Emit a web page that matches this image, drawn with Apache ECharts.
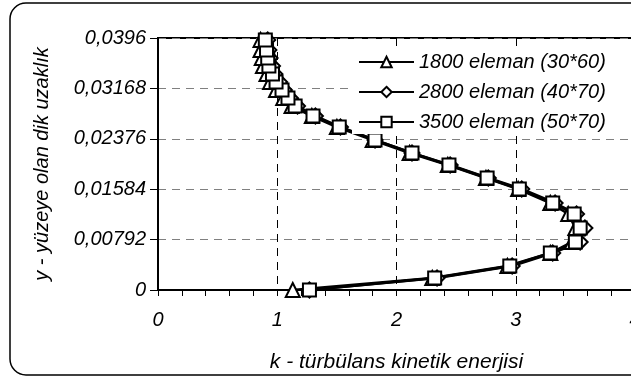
<!DOCTYPE html>
<html>
<head>
<meta charset="utf-8">
<script src="https://cdn.jsdelivr.net/npm/echarts@6/dist/echarts.min.js"></script>
<style>
html,body{margin:0;padding:0;background:#fff;}
#chart{width:631px;height:381px;}
</style>
</head>
<body>
<div id="chart"></div>
<script>
// y positions (distance from surface)
var yLevels = [0, 0.00189, 0.00377, 0.00581, 0.00754, 0.00974, 0.01194, 0.01367, 0.01587, 0.0176, 0.01964, 0.02153, 0.02357, 0.02561, 0.02734, 0.02891, 0.03017, 0.03143, 0.03269, 0.03394, 0.0352, 0.03646, 0.03771, 0.0393];
// k values for each mesh
var k1800 = [1.13, 2.30, 2.93, 3.29, 3.47, 3.50, 3.44, 3.29, 3.02, 2.75, 2.43, 2.11, 1.80, 1.50, 1.29, 1.12, 1.05, 0.99, 0.94, 0.91, 0.88, 0.87, 0.86, 0.86];
var k2800 = [1.27, 2.34, 2.97, 3.31, 3.54, 3.58, 3.51, 3.33, 3.05, 2.77, 2.45, 2.13, 1.82, 1.53, 1.32, 1.17, 1.11, 1.06, 1.02, 0.98, 0.96, 0.94, 0.93, 0.92];
var k3500 = [1.27, 2.32, 2.95, 3.29, 3.50, 3.54, 3.49, 3.31, 3.03, 2.76, 2.44, 2.13, 1.82, 1.52, 1.30, 1.15, 1.09, 1.04, 0.99, 0.96, 0.93, 0.92, 0.91, 0.90];
var seriesNames = ['1800 eleman (30*60)', '2800 eleman (40*70)', '3500 eleman (50*70)'];
var yTickLabels = ['0', '0,00792', '0,01584', '0,02376', '0,03168', '0,0396'];
var xTickLabels = ['0', '1', '2', '3', '4'];
var xTitle = 'k - türbülans kinetik enerjisi';
var yTitle = 'y - yüzeye olan dik uzaklık';

function pairs(ks) {
  return ks.map(function (k, i) { return [k, yLevels[i]]; });
}

var FONT = 'Liberation Sans';
var chart = echarts.init(document.getElementById('chart'), null, {renderer: 'canvas'});

function mkSeries(name, data, symbol, size) {
  return {
    name: name,
    type: 'line',
    data: data,
    symbol: symbol,
    symbolSize: size,
    showAllSymbol: true,
    lineStyle: {color: '#000', width: 2.5},
    itemStyle: {color: '#fff', borderColor: '#000', borderWidth: 2},
    emphasis: {disabled: true},
    animation: false,
    z: 3
  };
}

var option = {
  backgroundColor: '#fff',
  animation: false,
  graphic: [{
    type: 'rect',
    shape: {x: 10, y: 3, width: 640, height: 372, r: 16},
    style: {fill: 'none', stroke: '#000', lineWidth: 1.5},
    z: -10
  }],
  grid: {
    left: 158, top: 38, width: 477, height: 252,
    outerBoundsMode: 'none',
    containLabel: false,
    show: true, borderColor: '#000', borderWidth: 2, backgroundColor: 'transparent'
  },
  legend: {
    orient: 'vertical',
    left: 352,
    top: 50,
    itemWidth: 55,
    itemHeight: 13,
    itemGap: 10,
    padding: [2, 30, 2, 6],
    backgroundColor: '#fff',
    data: seriesNames,
    textStyle: {fontFamily: FONT, fontStyle: 'italic', fontSize: 20, color: '#000', lineHeight: 20}
  },
  xAxis: {
    type: 'value',
    min: 0, max: 4, interval: 1,
    name: xTitle,
    nameLocation: 'middle',
    nameGap: 62,
    nameTextStyle: {fontFamily: FONT, fontStyle: 'italic', fontSize: 21, color: '#000'},
    axisLine: {show: true, onZero: false, lineStyle: {color: '#000', width: 2}},
    axisTick: {show: true, length: 6, lineStyle: {color: '#000', width: 1}},
    minorTick: {show: true, splitNumber: 5, length: 6, lineStyle: {color: '#000', width: 1}},
    axisLabel: {
      margin: 20,
      fontFamily: FONT, fontStyle: 'italic', fontSize: 20, color: '#000',
      formatter: function (v) { var i = Math.round(v); return xTickLabels[i] !== undefined ? xTickLabels[i] : ''; }
    },
    splitLine: {show: true, lineStyle: {color: '#000', width: 1, type: [8, 6]}}
  },
  yAxis: {
    type: 'value',
    min: 0, max: 0.0396, interval: 0.00792,
    name: yTitle,
    nameLocation: 'middle',
    nameGap: 106,
    nameRotate: 90,
    nameTextStyle: {fontFamily: FONT, fontStyle: 'italic', fontSize: 20, color: '#000'},
    axisLine: {show: true, onZero: false, lineStyle: {color: '#000', width: 1}},
    axisTick: {show: true, length: 8, lineStyle: {color: '#000', width: 1}},
    axisLabel: {
      margin: 12,
      fontFamily: FONT, fontStyle: 'italic', fontSize: 20, color: '#000',
      formatter: function (v) { var i = Math.round(v / 0.00792); return yTickLabels[i] !== undefined ? yTickLabels[i] : ''; }
    },
    splitLine: {show: true, lineStyle: {color: '#808080', width: 1, type: [8, 6]}}
  },
  series: [
    mkSeries(seriesNames[0], pairs(k1800), 'triangle', 14),
    mkSeries(seriesNames[1], pairs(k2800), 'diamond', 15),
    mkSeries(seriesNames[2], pairs(k3500), 'rect', 13)
  ]
};
chart.setOption(option);
</script>
</body>
</html>
